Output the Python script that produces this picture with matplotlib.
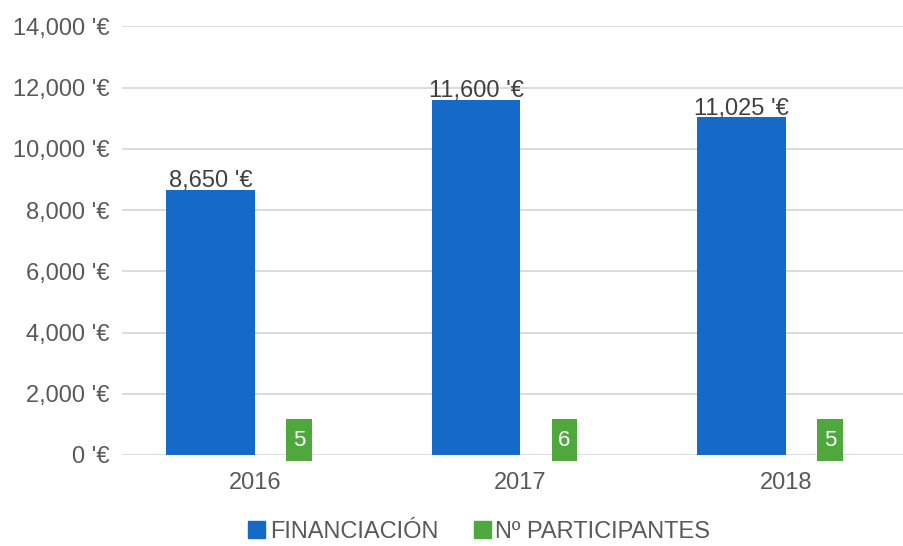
import matplotlib
matplotlib.use("Agg")
import matplotlib.pyplot as plt
import numpy as np
from matplotlib.path import Path
from matplotlib.patches import Patch
from matplotlib.ticker import FuncFormatter

plt.rcParams["font.family"] = ["Liberation Sans", "DejaVu Sans"]

years = ["2016", "2017", "2018"]
financiacion = [8650, 11600, 11025]
participantes = [5, 6, 5]

BLUE = "#1569c7"
GREEN = "#4fa83d"
TEXT = "#595959"
FS = 17


def eur(v, _pos=None):
    return f"{v:,.0f} '€"


def label_box(x0, y0, width, height, mutation_size):
    # rectangle with separate horizontal / vertical padding
    padx, pady = 0.29 * mutation_size, 0.47 * mutation_size
    x0, y0 = x0 - padx, y0 - pady
    x1, y1 = x0 + width + 2 * padx, y0 + height + 2 * pady
    return Path([(x0, y0), (x1, y0), (x1, y1), (x0, y1), (x0, y0)], closed=True)


fig = plt.figure(figsize=(9.04, 5.46), dpi=100)
ax = fig.add_axes([0.135, 0.1667, 0.865, 0.785])

x = np.arange(len(years))
w = 0.333
ax.bar(x - w / 2, financiacion, width=w, color=BLUE, zorder=3)
ax.bar(x + w / 2, participantes, width=w, color=GREEN, zorder=3)

for xi, v in zip(x, financiacion):
    ax.annotate(eur(v), (xi - w / 2, v), xytext=(0, -1.5), textcoords="offset points",
                ha="center", va="bottom", fontsize=FS, color="#404040", zorder=4)

for xi, v in zip(x, participantes):
    ax.annotate(str(v), (xi + w / 2, v), xytext=(0, 10.5), textcoords="offset points",
                ha="center", va="center", fontsize=16, color="white", zorder=4,
                bbox=dict(boxstyle=label_box, fc=GREEN, ec="none"))

ax.set_ylim(0, 14000)
ax.set_xlim(-0.5, 2.445)
ax.set_yticks(np.arange(0, 14001, 2000))
ax.yaxis.set_major_formatter(FuncFormatter(eur))
ax.set_xticks(x)
ax.set_xticklabels(years)
ax.tick_params(axis="both", length=0, labelsize=FS, labelcolor=TEXT)
ax.tick_params(axis="y", pad=9)
ax.tick_params(axis="x", pad=12)
ax.grid(axis="y", color="#d9d9d9", linewidth=1.3, zorder=0)
for s in ax.spines.values():
    s.set_visible(False)

handles = [Patch(color=BLUE, label="FINANCIACIÓN"), Patch(color=GREEN, label="Nº PARTICIPANTES")]
fig.legend(handles=handles, loc="center", bbox_to_anchor=(0.53, 0.026), ncol=2, frameon=False,
           fontsize=FS, labelcolor=TEXT, handlelength=0.72, handleheight=0.72,
           handletextpad=0.2, columnspacing=1.5, borderpad=0.1)

fig.savefig("out.png", dpi=100)
